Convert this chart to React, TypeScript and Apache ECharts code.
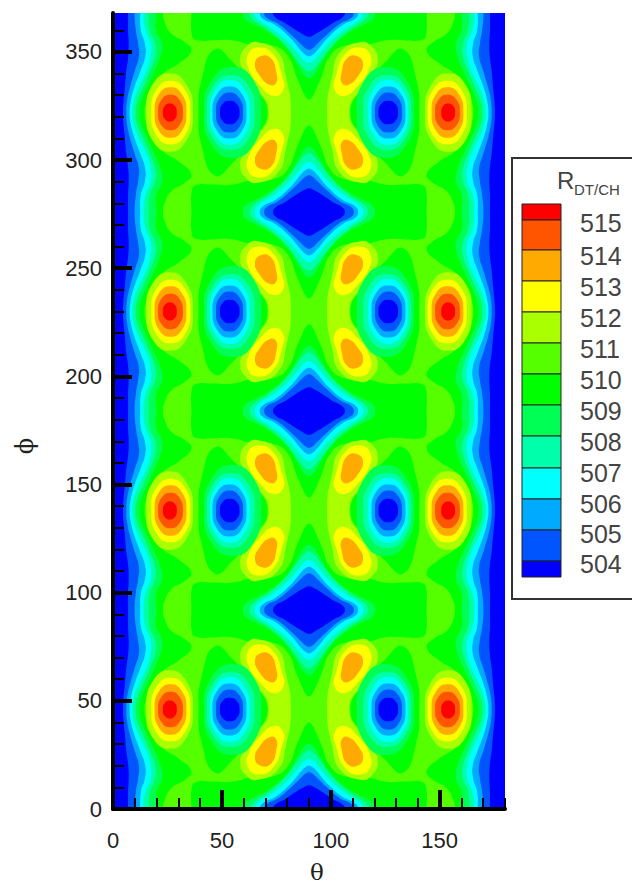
import React, { useEffect, useRef } from "react";
import * as echarts from "echarts";

type P = number[];

// Band colours, lowest to highest, as the legend shows them
const C = {
  b0: "#0000ff", b1: "#0055ff", b2: "#00aaff", b3: "#00ffff", b4: "#00ffaa", b5: "#00ff55",
  g0: "#00ff00", g1: "#55ff00", g2: "#aaff00", y: "#ffff00", o: "#ffaa00", o2: "#ff5500", r: "#ff0000",
};
const legendColors = [C.r, C.o2, C.o, C.y, C.g2, C.g1, C.g0, C.b5, C.b4, C.b3, C.b2, C.b1, C.b0];
const legendLabels = ["515", "514", "513", "512", "511", "510", "509", "508", "507", "506", "505", "504"];
const legendEdges = [204, 220, 250, 281, 312, 343, 374, 405, 436, 468, 499, 530, 561, 577];
const legendLabelY = [223, 256, 287, 318, 349, 380, 411, 442, 473, 504, 534, 564];

const xMajor = [0, 50, 100, 150];
const xMinor = [10, 20, 30, 40, 60, 70, 80, 90, 110, 120, 130, 140, 160, 170, 180];
const yMajor = [0, 50, 100, 150, 200, 250, 300, 350];
const yMinor = [10, 20, 30, 40, 60, 70, 80, 90, 110, 120, 130, 140, 160, 170, 180, 190, 210, 220, 230, 240, 260, 270, 280, 290, 310, 320, 330, 340, 360];

// Edge strips: theta of each band's edge, read at these phi, half a period (mirrors at 46 and 92)
const stripPhi = [0, 8, 14, 20, 27, 35, 41, 46];
const edge0 = [6.9, 6.9, 7.2, 7.0, 6.1, 5.4, 4.8, 4.6];
const edge1 = [9.9, 10.5, 11.5, 11.9, 9.9, 7.6, 6.4, 6.1];
const edge2 = [12.5, 12.8, 14.6, 14.8, 12.5, 9.6, 8.1, 7.6];
const edge3 = [14.0, 15.0, 17.3, 17.3, 15.3, 11.5, 9.5, 8.9];
const edge4 = [16.5, 16.9, 19.3, 19.3, 16.8, 13.5, 11.0, 10.4];
const edge5 = [19.9, 19.9, 22.5, 21.8, 19.0, 15.3, 12.9, 12.2];
const limeEdge: P[] = [[23, 0], [23.7, 4], [26.8, 9.6], [32.9, 13.4], [36, 17.3], [30.6, 23], [23, 28], [17.6, 34], [15.3, 41], [14.5, 46]];

// Central diamonds at theta 90: quadrant outlines [dTheta, dPhi]
const diamond00ff00: P[] = [[0, 40], [1.6, 38.6], [2.8, 36.3], [5.8, 29.3], [9.6, 20], [15.7, 15.4], [26.5, 14.7], [35.6, 12.6], [44.8, 12.7], [52, 12.4], [53.8, 10], [54, 0]];
const diamond00ff55: P[] = [[0, 30], [2, 29], [4, 26], [9.6, 17], [17.3, 9.8], [25, 5.4], [29, 3.2], [30.3, 0]];
const diamond00ffaa: P[] = [[0, 27], [2, 26], [4.6, 23], [11.2, 14.4], [18.8, 7.6], [25.4, 3.2], [27.2, 0]];
const diamond00ffff: P[] = [[0, 23], [2, 22.2], [4, 20], [9.6, 13.4], [17.3, 7], [23.2, 3.2], [24.9, 0]];
const diamond00aaff: P[] = [[0, 20], [1.8, 19.2], [3.4, 17.7], [8.9, 11.2], [15.7, 5.4], [21, 2.8], [22.6, 0]];
const diamond0055ff: P[] = [[0, 17], [1.8, 16.2], [3.4, 14.7], [8.1, 10.2], [14.2, 5], [19, 2.6], [20.6, 0]];
const diamond0000ff: P[] = [[0, 11], [2.4, 10], [6.6, 7.5], [11.9, 4], [15, 2.4], [16.5, 0]];
const diamondPhi = [0, 92, 184, 276, 368];

// Features of one lobe, phi read around 46 (repeat every 92)
const lobePhi = [46, 138, 230, 322];
const unitRing: P[] = [[0, 1], [0.72, 0.72], [1, 0], [0.72, -0.72], [0, -1], [-0.72, -0.72], [-1, 0], [-0.72, 0.72]];
// [colour, centre theta, half width, half height]
const holeBands: [string, number, number, number][] = [[C.b5, 54.9, 13.2, 21], [C.b4, 54.1, 11, 17.3], [C.b3, 53.7, 9.1, 15], [C.b2, 53.5, 7.8, 12], [C.b1, 53.5, 6.2, 9.3], [C.b0, 53.6, 4.5, 5.4]];
const peakBands: [string, number, number, number][] = [[C.g2, 26, 10.7, 18.2], [C.y, 26.5, 9, 14.7], [C.o, 26.4, 7.3, 11.7], [C.o2, 26.4, 5.7, 8.2], [C.r, 26.1, 3.2, 4.2]];
const crescentUpper: P[] = [[71.5, 46], [63.8, 60], [60.6, 64], [58.4, 71], [61.4, 76.6], [66, 78.6], [75.6, 74], [79.4, 62.8], [81.7, 46]];
const lensUpper: P[] = [[39.3, 46], [40.7, 61.3], [46.8, 75.2], [55.2, 69], [62.8, 59.7], [71, 46]];
const sideYellow: P[] = [[61.8, 72.5], [66.5, 76], [73.4, 73], [77.6, 63], [78.2, 56.5], [73.8, 53.6], [67.4, 58.6], [62.6, 65.5]];
const sideOrange: P[] = [[65.2, 68.5], [67.8, 72], [72.4, 71.2], [75, 64.5], [74.8, 59.5], [71.8, 58.8], [67.4, 63]];

type Region = { color: string; pts: P[] };
const regions: Region[] = [];
const add = (color: string, pts: P[]) => regions.push({ color, pts });
const flipT = (pts: P[]) => pts.map(([t, f]) => [180 - t, f]);
const flipF = (pts: P[], c: number) => pts.map(([t, f]) => [t, 2 * c - f]);
const moveF = (pts: P[], d: number) => pts.map(([t, f]) => [t, f + d]);

function wave(half: P[]): P[] {
  const out: P[] = [];
  const back = half.slice(0, -1).reverse().map(([t, f]) => [t, 92 - f]);
  for (let k = -1; k <= 4; k++) {
    out.push(...moveF(half, 92 * k), ...moveF(back, 92 * k).slice(0, -1));
  }
  return out;
}
function strip(color: string, half: P[]) {
  const l = wave(half);
  add(color, [...l, ...flipT(l).reverse()]);
}
function quad(q: P[], ct: number, cf: number): P[] {
  const ur = q.map(([a, b]) => [ct + a, cf + b]);
  const lr = q.slice(0, -1).reverse().map(([a, b]) => [ct + a, cf - b]);
  const ll = q.slice(1).map(([a, b]) => [ct - a, cf - b]);
  const ul = q.slice(1, -1).reverse().map(([a, b]) => [ct - a, cf + b]);
  return [...ur, ...lr, ...ll, ...ul];
}
function lens(upper: P[]): P[] {
  return [...upper, ...flipF(upper.slice(1, -1), 46).reverse()];
}
function both(color: string, pts: P[]) {
  add(color, pts);
  add(color, flipT(pts));
}

const pairs: [string, number[]][] = [[C.b1, edge0], [C.b2, edge1], [C.b3, edge2], [C.b4, edge3], [C.b5, edge4], [C.g0, edge5]];
pairs.forEach(([c, e]) => strip(c, e.map((t, i) => [t, stripPhi[i]])));
strip(C.g1, limeEdge);

diamondPhi.forEach((f) => {
  const items: [string, P[]][] = [[C.g0, diamond00ff00], [C.b5, diamond00ff55], [C.b4, diamond00ffaa], [C.b3, diamond00ffff], [C.b2, diamond00aaff], [C.b1, diamond0055ff], [C.b0, diamond0000ff]];
  items.forEach(([c, q]) => add(c, quad(q, 90, f)));
});

lobePhi.forEach((f) => {
  const d = f - 46;
  both(C.g2, moveF(lens(crescentUpper), d));
  both(C.g0, moveF(lens(lensUpper), d));
  holeBands.forEach(([c, ct, a, b]) => both(c, unitRing.map(([u, v]) => [ct + a * u, f + b * v])));
  [C.y, C.o].forEach((c, i) => {
    const s = i === 0 ? sideYellow : sideOrange;
    both(c, moveF(s, d));
    both(c, moveF(flipF(s, 46), d));
  });
  peakBands.forEach(([c, ct, a, b]) => both(c, unitRing.map(([u, v]) => [ct + a * u, f + b * v])));
});

const FONT = "Liberation Sans";
const SERIF = "DejaVu Serif";
const tickFont = { fontFamily: FONT, fontSize: 22, color: "#222" };

export default function App() {
  const ref = useRef<HTMLDivElement>(null);
  useEffect(() => {
    const chart = echarts.init(ref.current!, undefined, { renderer: "svg" });
    const graphic: any[] = [
      { type: "rect", z: 10, shape: { x: 512, y: 158, width: 130, height: 441 }, style: { fill: "#fff", stroke: "#333", lineWidth: 2 } },
      { type: "text", z: 11, x: 557, y: 168, style: { text: "R", fontFamily: FONT, fontSize: 24, fill: "#444" } },
      { type: "text", z: 11, x: 574, y: 182, style: { text: "DT/CH", fontFamily: FONT, fontSize: 15, fill: "#444" } },
      { type: "text", z: 11, x: 317, y: 872, style: { text: "θ", fontFamily: SERIF, fontSize: 23, fill: "#222", align: "center", verticalAlign: "middle" } },
      { type: "text", z: 11, x: 25, y: 446, rotation: Math.PI / 2, style: { text: "ϕ", fontFamily: SERIF, fontSize: 24, fill: "#222", align: "center", verticalAlign: "middle" } },
    ];
    legendColors.forEach((c, i) => {
      graphic.push({
        type: "rect", z: 11,
        shape: { x: 522, y: legendEdges[i], width: 39, height: legendEdges[i + 1] - legendEdges[i] },
        style: { fill: c, stroke: "#222", lineWidth: 1 },
      });
    });
    legendLabels.forEach((t, i) => {
      graphic.push({
        type: "text", z: 11, x: 580, y: legendLabelY[i] - 13,
        style: { text: t, fontFamily: FONT, fontSize: 25, fill: "#444" },
      });
    });
    chart.setOption({
      animation: false,
      backgroundColor: "#fff",
      grid: { left: 113, right: 127, top: 13, bottom: 75, show: true, backgroundColor: C.b0, borderWidth: 0, outerBoundsMode: "none" },
      xAxis: [
        {
          type: "value", min: 0, max: 180, interval: 10, position: "bottom", z: 5,
          splitLine: { show: false },
          axisLine: { show: true, lineStyle: { color: "#000", width: 4 } },
          axisTick: { show: true, inside: true, length: 19, customValues: xMajor, lineStyle: { color: "#000", width: 4 } },
          axisLabel: { customValues: xMajor, margin: 20, ...tickFont },
        },
        {
          type: "value", min: 0, max: 180, interval: 10, position: "bottom", z: 5,
          splitLine: { show: false }, axisLine: { show: false }, axisLabel: { show: false },
          axisTick: { show: true, inside: true, length: 11, customValues: xMinor, lineStyle: { color: "#000", width: 2 } },
        },
      ],
      yAxis: [
        {
          type: "value", min: 0, max: 368, interval: 50, position: "left", z: 5,
          splitLine: { show: false },
          axisLine: { show: true, lineStyle: { color: "#000", width: 4 } },
          axisTick: { show: true, inside: true, length: 19, customValues: yMajor, lineStyle: { color: "#000", width: 4 } },
          axisLabel: { customValues: yMajor, margin: 11, ...tickFont },
        },
        {
          type: "value", min: 0, max: 368, interval: 50, position: "left", z: 5,
          splitLine: { show: false }, axisLine: { show: false }, axisLabel: { show: false },
          axisTick: { show: true, inside: true, length: 11, customValues: yMinor, lineStyle: { color: "#000", width: 2 } },
        },
      ],
      graphic,
      series: [
        {
          type: "custom",
          clip: true,
          silent: true,
          z: 1,
          encode: { x: 0, y: 1 },
          data: regions.map((r) => r.pts[0]),
          renderItem: (params: any, api: any) => {
            const r = regions[params.dataIndex];
            return {
              type: "polygon",
              shape: { points: r.pts.map((p) => api.coord(p)), smooth: 0.5 },
              style: { fill: r.color },
            };
          },
        },
      ],
    });
    return () => chart.dispose();
  }, []);
  return <div ref={ref} style={{ position: "absolute", left: 0, top: 0, width: 632, height: 884 }} />;
}
